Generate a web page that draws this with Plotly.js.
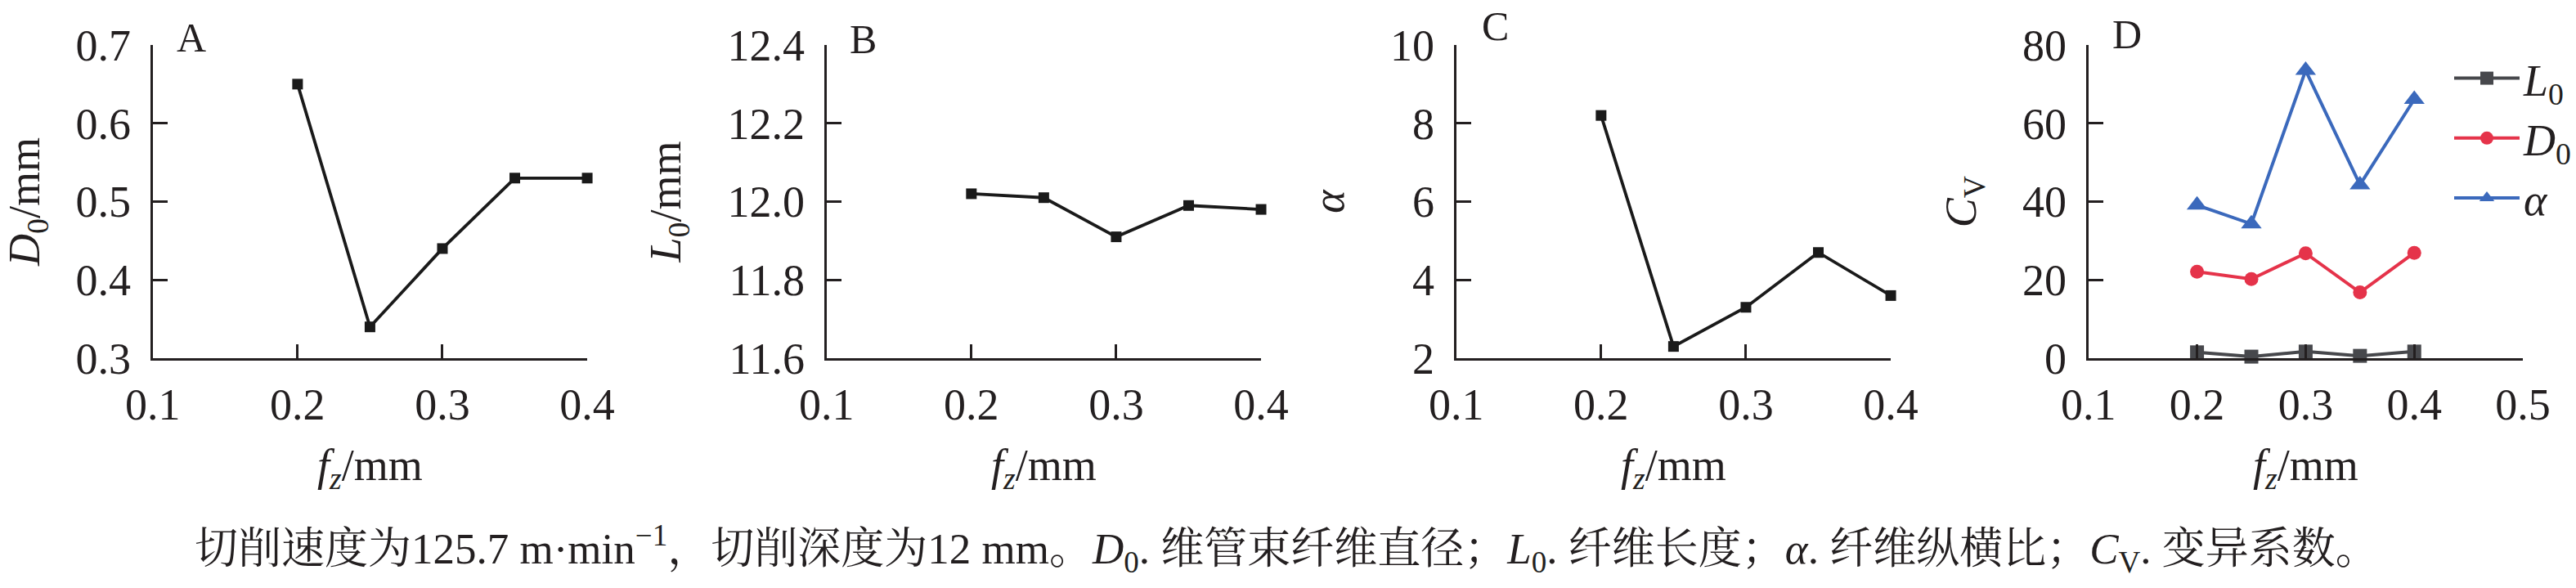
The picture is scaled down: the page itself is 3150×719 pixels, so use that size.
<!DOCTYPE html>
<html>
<head>
<meta charset="utf-8">
<script src="https://cdn.plot.ly/plotly-3.0.1.min.js"></script>
<style>html,body{margin:0;padding:0;background:#fff;}#chart{width:3150px;height:719px;}</style>
</head>
<body>
<div id="chart"></div>
<script>
// ---- data ----
const fz = [0.2, 0.25, 0.3, 0.35, 0.4];
const D0 = [0.65, 0.34, 0.44, 0.53, 0.53];          // panel A, mm
const L0 = [12.02, 12.01, 11.91, 11.99, 11.98];     // panel B, mm
const alpha = [8.2, 2.3, 3.3, 4.7, 3.6];            // panel C
const cvL0 = [1.5, 0.4, 1.7, 0.6, 1.7];             // panel D, CV of L0
const cvD0 = [22.1, 20.2, 26.8, 16.8, 26.9];        // panel D, CV of D0
const cvAlpha = [39.1, 34.3, 73.5, 44.3, 66.1];     // panel D, CV of alpha
const panelLetters = ['A', 'B', 'C', 'D'];
const yTitles = ['<i>D</i><sub>0</sub>/mm', '<i>L</i><sub>0</sub>/mm', '<i>α</i>', '<i>C</i><sub>V</sub>'];
const xTitle = '<i>f</i><sub><i>z</i></sub>/mm';
const legendNames = ['<i>L</i><sub>0</sub>', '<i>D</i><sub>0</sub>', '<i>α</i>'];
const caption = '切削速度为125.7 m·min<sup>−1</sup>，切削深度为12 mm。<i>D</i><sub>0</sub>. 维管束纤维直径；<i>L</i><sub>0</sub>. 纤维长度；<i>α</i>. 纤维纵横比；<i>C</i><sub>V</sub>. 变异系数。';

// ---- layout helpers ----
const W = 3150, H = 719;
const F = 'Liberation Serif, Times New Roman, serif';
const FC = 'Liberation Serif, Noto Serif CJK SC, Noto Sans CJK SC, serif';
const FS = 54;
const INK = '#231f20';
const px = (a, b) => [a / W, b / W];
const yDom = [(H - 438) / H, (H - 55) / H];
const xDoms = [px(187, 719), px(1012, 1544), px(1783, 2315), px(2557, 3089)];

function xax(dom, rng, anchor) {
  return {
    domain: dom, range: rng, anchor: anchor, tick0: 0.1, dtick: 0.1, tickformat: '.1f',
    showgrid: false, zeroline: false, showline: true, linecolor: INK, linewidth: 3,
    ticks: 'inside', ticklen: 17, tickwidth: 3, tickcolor: INK, ticklabelstandoff: 7,
    tickfont: {family: F, size: FS, color: INK},
    title: {text: xTitle, font: {family: F, size: FS, color: INK}, standoff: 26},
    fixedrange: true
  };
}
function yax(rng, dtick, fmt, anchor, title, standoff) {
  return {
    domain: yDom, range: rng, anchor: anchor, dtick: dtick, tickformat: fmt,
    showgrid: false, zeroline: false, showline: true, linecolor: INK, linewidth: 3,
    ticks: 'inside', ticklen: 18, tickwidth: 3, tickcolor: INK, ticklabelstandoff: 13,
    tickfont: {family: F, size: FS, color: INK},
    title: {text: title, font: {family: F, size: FS, color: INK}, standoff: standoff},
    fixedrange: true
  };
}

const blackLine = (y, xa, ya) => ({
  x: fz, y: y, xaxis: xa, yaxis: ya, mode: 'lines+markers', showlegend: false, cliponaxis: false,
  line: {color: '#1a1a1a', width: 3.8},
  marker: {symbol: 'square', size: 13, color: '#1a1a1a'}
});

const traces = [
  blackLine(D0, 'x', 'y'),
  blackLine(L0, 'x2', 'y2'),
  blackLine(alpha, 'x3', 'y3'),
  {x: fz, y: cvL0, xaxis: 'x4', yaxis: 'y4', name: legendNames[0], legendgroup: 'g1', mode: 'lines+markers', cliponaxis: false,
   line: {color: '#47484c', width: 4}, marker: {symbol: 'square', size: 17, color: '#47484c'}},
  {x: fz, y: cvD0, xaxis: 'x4', yaxis: 'y4', name: legendNames[1], legendgroup: 'g2', mode: 'lines+markers', cliponaxis: false,
   line: {color: '#e5334a', width: 4}, marker: {symbol: 'circle', size: 17, color: '#e5334a'}},
  {x: fz, y: cvAlpha, xaxis: 'x4', yaxis: 'y4', name: legendNames[2], legendgroup: 'g3', mode: 'lines+markers', cliponaxis: false,
   line: {color: '#3b69bc', width: 4}, marker: {symbol: 'triangle-up', size: 22, color: '#3b69bc'}}
];

const letterPos = [[214, 46], [1038, 48], [1812, 32], [2584, 42]];
const annotations = panelLetters.map((t, i) => ({
  text: t, xref: 'paper', yref: 'paper', x: letterPos[i][0] / W, y: (H - letterPos[i][1]) / H,
  xanchor: 'left', yanchor: 'middle', showarrow: false,
  font: {family: F, size: 50, color: INK}
}));
annotations.push({
  text: caption, xref: 'paper', yref: 'paper', x: 0.5, y: (H - 671) / H,
  xanchor: 'center', yanchor: 'middle', showarrow: false,
  font: {family: FC, size: 53, color: INK}
});

const layout = {
  width: W, height: H, margin: {l: 0, r: 0, t: 0, b: 0},
  paper_bgcolor: '#ffffff', plot_bgcolor: '#ffffff',
  showlegend: true,
  legend: {x: 3000 / W, y: (H - 54) / H, xanchor: 'left', yanchor: 'top', bgcolor: 'rgba(0,0,0,0)',
           font: {family: F, size: FS, color: INK}, itemwidth: 80, tracegroupgap: 6, traceorder: 'normal'},
  xaxis: xax(xDoms[0], [0.1, 0.4], 'y'),
  xaxis2: xax(xDoms[1], [0.1, 0.4], 'y2'),
  xaxis3: xax(xDoms[2], [0.1, 0.4], 'y3'),
  xaxis4: xax(xDoms[3], [0.1, 0.5], 'y4'),
  yaxis: yax([0.3, 0.7], 0.1, '.1f', 'x', yTitles[0], 40),
  yaxis2: yax([11.6, 12.4], 0.2, '.1f', 'x2', yTitles[1], 40),
  yaxis3: yax([2, 10], 2, 'd', 'x3', yTitles[2], 40),
  yaxis4: yax([0, 80], 20, 'd', 'x4', yTitles[3], 40),
  annotations: annotations
};

Plotly.newPlot('chart', traces, layout, {staticPlot: true, displayModeBar: false});
</script>
</body>
</html>
